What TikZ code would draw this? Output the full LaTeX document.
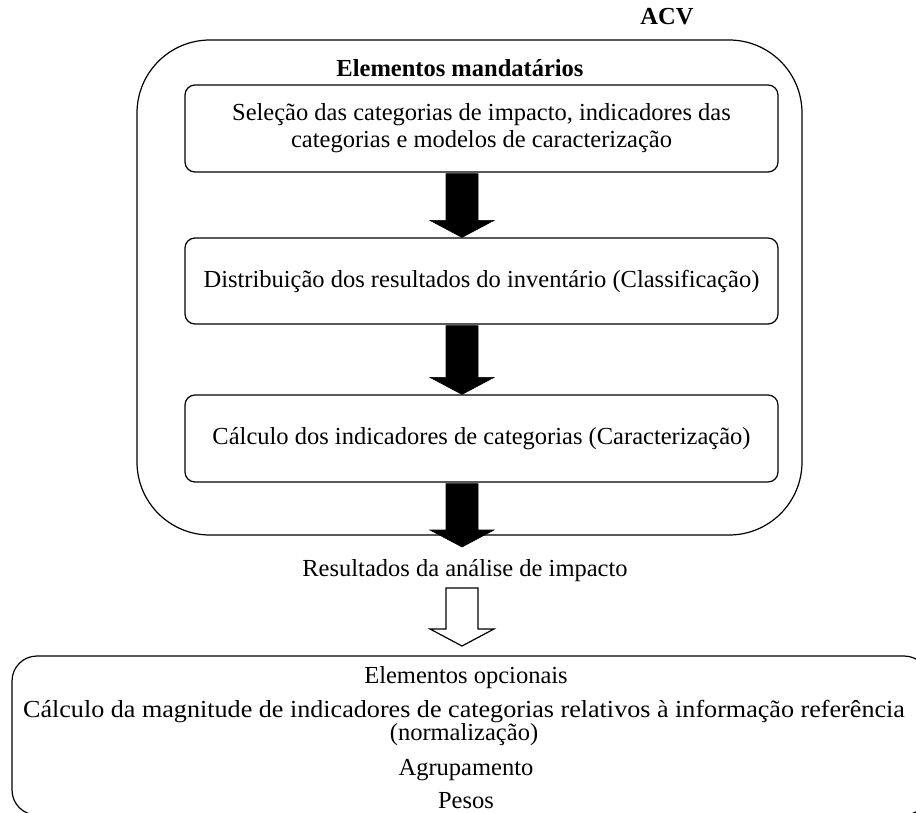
\documentclass[tikz,border=0pt]{standalone}
\usepackage{fontspec}
\setmainfont{Liberation Serif}
\usetikzlibrary{calc}
\newcommand\blkarrow[3]{%
  \draw[#3] ($(#1)+(-16,0)$) -- ($(#1)+(16,0)$) -- ($(#2)+(16,-17)$) -- ($(#2)+(32,-17)$) -- (#2) -- ($(#2)+(-32,-17)$) -- ($(#2)+(-16,-17)$) -- cycle;}
\begin{document}
\begin{tikzpicture}[x=1pt,y=-1pt,
  txt/.style={font=\fontsize{24.5}{28}\selectfont, inner sep=0pt, align=center},
  boldtxt/.style={font=\fontsize{24.5}{28}\selectfont\bfseries, inner sep=0pt},
  stepbox/.style={draw, line width=1.2pt, rounded corners=10pt, minimum width=593pt, minimum height=87pt, txt},
  solidarrow/.style={fill=black, draw=black, line width=0.6pt},
  hollowarrow/.style={fill=white, draw=black, line width=1.2pt},
]
\clip (0,0) rectangle (916,813);
\fill[white] (0,0) rectangle (916,813);
% outer ACV box
\node[draw, line width=1.2pt, rounded corners=73pt, minimum width=665pt, minimum height=495pt, inner sep=0pt] (acv) at (469.5,287.5) {};
\node[boldtxt] (acvlabel) at (667,17) {ACV};
\node[boldtxt] (mand) at (460,68) {Elementos mandatários};
% inner boxes
\node[stepbox] (b1) at (481.5,128.5) {Seleção das categorias de impacto, indicadores das\\[-1pt]categorias e modelos de caracterização};
\node[stepbox, minimum height=86pt] (b2) at (481.5,281) {Distribuição dos resultados do inventário (Classificação)};
\node[stepbox] (b3) at (481.5,438.5) {Cálculo dos indicadores de categorias (Caracterização)};
% result text
\node[txt] (res) at (465,571) {Resultados da análise de impacto};
% bottom box
\node[draw, line width=1.2pt, rounded corners=25pt, minimum width=917pt, minimum height=159pt, inner sep=0pt] (bot) at (470.5,735.5) {};
\node[txt] (opc) at (466,678) {Elementos opcionais};
\node[txt, font=\fontsize{24.5}{19}\selectfont] (calc) at (464,723) {\scalebox{1.066}[1]{Cálculo da magnitude de indicadores de categorias relativos à informação referência}\\(normalização)};
\node[txt] (agr) at (466,770) {Agrupamento};
\node[txt] (pes) at (466,801) {Pesos};
% arrows
\coordinate (ax) at (462,0);
\coordinate (a1s) at ($(b1.south -| ax)+(0,1)$);
\coordinate (a1t) at (b2.north -| ax);
\coordinate (a2s) at ($(b2.south -| ax)+(0,1)$);
\coordinate (a2t) at (b3.north -| ax);
\coordinate (a3s) at ($(b3.south -| ax)+(0,1)$);
\coordinate (a3t) at (462,547);
\coordinate (hs) at (462,588);
\coordinate (ht) at (462,646);
\blkarrow{a1s}{a1t}{solidarrow}
\blkarrow{a2s}{a2t}{solidarrow}
\blkarrow{a3s}{a3t}{solidarrow}
\blkarrow{hs}{ht}{hollowarrow}
\end{tikzpicture}
\end{document}
